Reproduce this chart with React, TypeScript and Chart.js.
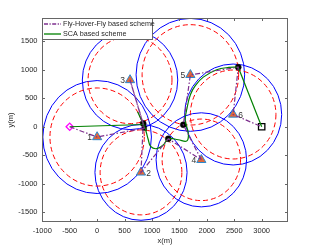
import React, { useEffect, useRef } from 'react';
import { Chart, registerables } from 'chart.js';

Chart.register(...registerables);

const FONT = "'Liberation Sans', Arial, Helvetica, sans-serif";

// axis ticks
const xTicks = [-1000, -500, 0, 500, 1000, 1500, 2000, 2500, 3000];
const yTicks = [-1500, -1000, -500, 0, 500, 1000, 1500];

// ground terminals
const gtLabels = ['1', '2', '3', '4', '5', '6'];
const gtX = [0, 800, 600, 1900, 1700, 2480];
const gtY = [-180, -800, 820, -580, 910, 215];
const gtLabelSide = [-1, 1, -1, -1, -1, 1];
const blueRadius = [990, 840, 870, 825, 990, 885];
const redRadius = [860, 745, 765, 715, 880, 780];

// start / end
const startX = [-500];
const startY = [0];
const endX = [3000];
const endY = [0];

// hover points
const hoverX = [840, 1297, 1571, 2573];
const hoverY = [58, -211, 35, 1045];
const hoverSqX = [860];
const hoverSqY = [-25];

// Fly-Hover-Fly trajectory
const fhfX = [-500, 0, 860, 600, 840, 800, 1297, 1900, 1571, 1700, 2573, 2480, 3000];
const fhfY = [0, -180, -25, 820, 58, -800, -211, -580, 35, 910, 1045, 215, 0];

// SCA trajectory (straight head, curved middle, straight tail)
const scaHeadX = [-500, 845, 740, 841];
const scaHeadY = [0, 40, 260, 58];
const scaCurveX = [841, 883, 933, 975, 1086, 1206, 1297, 1479, 1633, 1665, 1635, 1605, 1640, 1700, 1790, 1935, 2180, 2400, 2573];
const scaCurveY = [58, -53, -228, -345, -385, -320, -211, -228, -250, -140, 0, 120, 330, 560, 720, 870, 1000, 1040, 1045];
const scaTailX = [2573, 3000];
const scaTailY = [1045, 0];

const pts = (xs: number[], ys: number[]) => xs.map((x, i) => ({ x, y: ys[i] }));

const circlesPlugin = {
  id: 'circles',
  beforeDatasetsDraw(chart: any) {
    const { ctx, chartArea, scales } = chart;
    const xs = scales.x;
    const ys = scales.y;
    ctx.save();
    ctx.beginPath();
    ctx.rect(chartArea.left, chartArea.top, chartArea.right - chartArea.left, chartArea.bottom - chartArea.top);
    ctx.clip();
    const drawSet = (radii: number[], color: string, dash: number[]) => {
      ctx.strokeStyle = color;
      ctx.lineWidth = 1;
      ctx.setLineDash(dash);
      for (let i = 0; i < gtX.length; i++) {
        const cx = xs.getPixelForValue(gtX[i]);
        const cy = ys.getPixelForValue(gtY[i]);
        const rx = Math.abs(xs.getPixelForValue(gtX[i] + radii[i]) - cx);
        const ry = Math.abs(ys.getPixelForValue(gtY[i] + radii[i]) - cy);
        ctx.beginPath();
        ctx.ellipse(cx, cy, rx, ry, 0, 0, Math.PI * 2);
        ctx.stroke();
      }
    };
    drawSet(blueRadius, '#0000ff', []);
    drawSet(redRadius, '#ff0000', [5, 3]);
    ctx.restore();
  },
};

const overlayPlugin = {
  id: 'overlay',
  afterDraw(chart: any) {
    const { ctx, chartArea, scales } = chart;
    const { left, right, top, bottom } = chartArea;
    const xs = scales.x;
    const ys = scales.y;
    ctx.save();
    // GT labels
    ctx.fillStyle = '#333333';
    ctx.font = `8.5px ${FONT}`;
    ctx.textAlign = 'center';
    ctx.textBaseline = 'middle';
    for (let i = 0; i < gtX.length; i++) {
      const px = xs.getPixelForValue(gtX[i]) + gtLabelSide[i] * 7.5;
      const py = ys.getPixelForValue(gtY[i]) + 1;
      ctx.fillText(gtLabels[i], px, py);
    }
    // frame and inward ticks
    ctx.strokeStyle = '#666666';
    ctx.lineWidth = 1;
    ctx.setLineDash([]);
    ctx.beginPath();
    xTicks.forEach((v) => {
      const px = Math.round(xs.getPixelForValue(v)) + 0.5;
      ctx.moveTo(px, bottom);
      ctx.lineTo(px, bottom - 3);
      ctx.moveTo(px, top);
      ctx.lineTo(px, top + 3);
    });
    yTicks.forEach((v) => {
      const py = Math.round(ys.getPixelForValue(v)) + 0.5;
      ctx.moveTo(left, py);
      ctx.lineTo(left + 3, py);
      ctx.moveTo(right, py);
      ctx.lineTo(right - 3, py);
    });
    ctx.stroke();
    ctx.strokeRect(left + 0.5, top + 0.5, right - left - 1, bottom - top - 1);
    // legend
    const lw = 110;
    const lh = 21;
    ctx.fillStyle = '#ffffff';
    ctx.fillRect(left, top, lw, lh);
    ctx.strokeStyle = '#666666';
    ctx.strokeRect(left + 0.5, top + 0.5, lw, lh);
    const rows = [
      { text: 'Fly-Hover-Fly based scheme', color: '#7E2F8E', dash: [4, 1.5, 1.2, 1.5] },
      { text: 'SCA based scheme', color: '#008000', dash: [] as number[] },
    ];
    rows.forEach((r, i) => {
      const yy = top + 6 + i * 10;
      ctx.strokeStyle = r.color;
      ctx.lineWidth = 1.3;
      ctx.setLineDash(r.dash);
      ctx.beginPath();
      ctx.moveTo(left + 2, yy);
      ctx.lineTo(left + 19, yy);
      ctx.stroke();
      ctx.setLineDash([]);
      ctx.fillStyle = '#262626';
      ctx.font = `7.2px ${FONT}`;
      ctx.textAlign = 'left';
      ctx.textBaseline = 'middle';
      ctx.fillText(r.text, left + 21, yy + 0.5);
    });
    ctx.restore();
  },
};

const plainTick = (v: any) => String(v);

export default function App() {
  const ref = useRef<HTMLCanvasElement | null>(null);
  useEffect(() => {
    if (!ref.current) return;
    const chart = new Chart(ref.current, {
      type: 'scatter',
      data: {
        datasets: [
          {
            data: pts(fhfX, fhfY),
            showLine: true,
            borderColor: '#7E2F8E',
            borderWidth: 1.2,
            borderDash: [5, 2, 1.5, 2],
            pointRadius: 0,
            tension: 0,
          },
          {
            data: pts(scaHeadX, scaHeadY),
            showLine: true,
            borderColor: '#008000',
            borderWidth: 1.2,
            pointRadius: 0,
            tension: 0,
          },
          {
            data: pts(scaCurveX, scaCurveY),
            showLine: true,
            borderColor: '#008000',
            borderWidth: 1.2,
            pointRadius: 0,
            tension: 0.4,
          },
          {
            data: pts(scaTailX, scaTailY),
            showLine: true,
            borderColor: '#008000',
            borderWidth: 1.2,
            pointRadius: 0,
            tension: 0,
          },
          {
            data: pts(gtX, gtY),
            pointStyle: 'triangle',
            pointRadius: 5.3,
            backgroundColor: '#E0673A',
            borderColor: '#2a8ad0',
            borderWidth: 1,
          },
          {
            data: pts(hoverX, hoverY),
            pointStyle: 'circle',
            pointRadius: 3,
            backgroundColor: '#000000',
            borderColor: '#000000',
            borderWidth: 0.5,
          },
          {
            data: pts(hoverSqX, hoverSqY),
            pointStyle: 'rect',
            pointRadius: 3.2,
            backgroundColor: '#000000',
            borderColor: '#000000',
            borderWidth: 0.5,
          },
          {
            data: pts(startX, startY),
            pointStyle: 'rectRot',
            pointRadius: 3.6,
            backgroundColor: 'rgba(0,0,0,0)',
            borderColor: '#ff00ff',
            borderWidth: 1.3,
          },
          {
            data: pts(endX, endY),
            pointStyle: 'rect',
            pointRadius: 4.5,
            backgroundColor: 'rgba(0,0,0,0)',
            borderColor: '#000000',
            borderWidth: 1.3,
          },
        ],
      },
      options: {
        animation: false,
        responsive: true,
        maintainAspectRatio: false,
        layout: { padding: { left: 0, right: 31, top: 18, bottom: 0 } },
        plugins: { legend: { display: false }, tooltip: { enabled: false } },
        scales: {
          x: {
            type: 'linear',
            min: -1005,
            max: 3480,
            afterBuildTicks: (s: any) => {
              s.ticks = xTicks.map((v) => ({ value: v }));
            },
            afterFit: (s: any) => {
              s.height = 27;
            },
            grid: { display: false, drawTicks: false },
            border: { display: false },
            ticks: {
              font: { size: 7.5, family: FONT },
              color: '#262626',
              padding: 4,
              maxRotation: 0,
              autoSkip: false,
              callback: plainTick,
            },
            title: {
              display: true,
              text: 'x(m)',
              font: { size: 7.5, family: FONT },
              color: '#262626',
              padding: { top: 0, bottom: 3.5 },
            },
          },
          y: {
            type: 'linear',
            min: -1670,
            max: 1907,
            afterBuildTicks: (s: any) => {
              s.ticks = yTicks.map((v) => ({ value: v }));
            },
            afterFit: (s: any) => {
              s.width = 42;
            },
            grid: { display: false, drawTicks: false },
            border: { display: false },
            ticks: {
              font: { size: 7.5, family: FONT },
              color: '#262626',
              padding: 4.5,
              autoSkip: false,
              callback: plainTick,
            },
            title: {
              display: true,
              text: 'y(m)',
              font: { size: 7.5, family: FONT },
              color: '#262626',
              padding: { top: 6, bottom: 0 },
            },
          },
        },
      },
      plugins: [circlesPlugin, overlayPlugin],
    });
    return () => chart.destroy();
  }, []);
  return (
    <div style={{ position: 'absolute', left: 0, top: 0, width: 319, height: 249, background: '#fff' }}>
      <canvas ref={ref} />
    </div>
  );
}
